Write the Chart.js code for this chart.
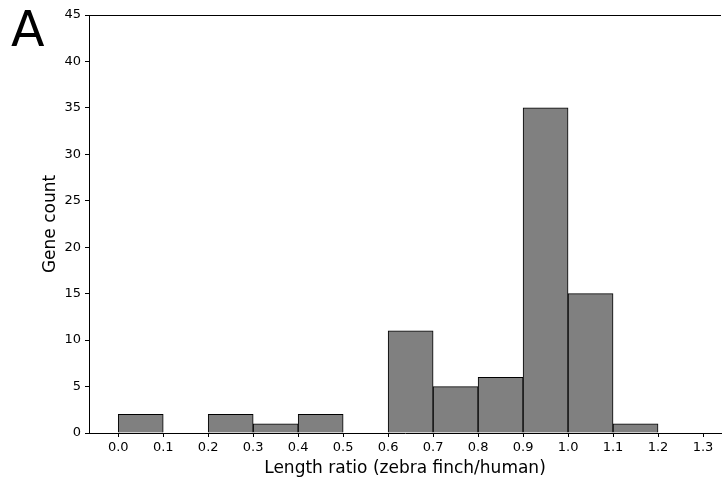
<!DOCTYPE html>
<html>
<head>
<meta charset="utf-8">
<script src="https://cdn.jsdelivr.net/npm/chart.js@4/dist/chart.umd.min.js"></script>
<style>
  html, body { margin: 0; padding: 0; background: #fff; }
  #histChart { display: block; }
</style>
</head>
<body>
<canvas id="histChart" width="722" height="481"></canvas>
<script>
// Bin centres (bins are 0.1 wide) and gene counts per bin
const binCenters = [0.05, 0.15, 0.25, 0.35, 0.45, 0.55, 0.65, 0.75, 0.85, 0.95, 1.05, 1.15];
const geneCounts = [2, null, 2, 1, 2, null, 11, 5, 6, 35, 15, 1];
const xTicks = [0.0, 0.1, 0.2, 0.3, 0.4, 0.5, 0.6, 0.7, 0.8, 0.9, 1.0, 1.1, 1.2, 1.3];
const yTicks = [0, 5, 10, 15, 20, 25, 30, 35, 40, 45];

const FONT = "'DejaVu Sans', sans-serif";

// top spine and panel letter
const extrasPlugin = {
  id: "extras",
  afterDraw(chart) {
    const { ctx, chartArea } = chart;
    ctx.save();
    ctx.strokeStyle = "#000";
    ctx.lineWidth = 1;
    ctx.beginPath();
    ctx.moveTo(chartArea.left, chartArea.top + 0.5);
    ctx.lineTo(chartArea.right, chartArea.top + 0.5);
    ctx.stroke();
    ctx.fillStyle = "#000";
    ctx.font = "49px " + FONT;
    ctx.textBaseline = "alphabetic";
    ctx.fillText("A", 11, 46);
    ctx.restore();
  },
};

new Chart(document.getElementById("histChart"), {
  type: "bar",
  data: {
    datasets: [
      {
        data: binCenters.map((x, i) => ({ x: x, y: geneCounts[i] })),
        backgroundColor: "#808080",
        borderColor: "#000",
        borderWidth: 1,
        barPercentage: 1,
        categoryPercentage: 1,
      },
    ],
  },
  options: {
    responsive: false,
    animation: false,
    layout: { padding: { left: 0, right: 1, top: 15, bottom: 0 } },
    plugins: { legend: { display: false }, tooltip: { enabled: false } },
    scales: {
      x: {
        type: "linear",
        offset: false,
        min: -0.065,
        max: 1.34,
        afterBuildTicks: (scale) => {
          scale.ticks = xTicks.map((v) => ({ value: v }));
        },
        afterFit: (scale) => {
          scale.height = 48;
        },
        ticks: {
          autoSkip: false,
          maxRotation: 0,
          color: "#000",
          font: { family: FONT, size: 13 },
          padding: 3,
          callback: (v) => Number(v).toFixed(1),
        },
        grid: { offset: false, drawOnChartArea: false, drawTicks: true, tickLength: 4, color: "#000" },
        border: { display: true, color: "#000", width: 1 },
        title: {
          display: true,
          text: "Length ratio (zebra finch/human)",
          color: "#000",
          font: { family: FONT, size: 17 },
          padding: { top: 0, bottom: 2 },
        },
      },
      y: {
        min: 0,
        max: 45,
        afterBuildTicks: (scale) => {
          scale.ticks = yTicks.map((v) => ({ value: v }));
        },
        afterFit: (scale) => {
          scale.width = 89;
        },
        ticks: {
          color: "#000",
          font: { family: FONT, size: 13 },
          padding: 4,
        },
        grid: { drawOnChartArea: false, drawTicks: true, tickLength: 4, color: "#000" },
        border: { display: true, color: "#000", width: 1 },
        title: {
          display: true,
          text: "Gene count",
          color: "#000",
          font: { family: FONT, size: 17 },
          padding: { top: 40, bottom: 0 },
        },
      },
    },
  },
  plugins: [extrasPlugin],
});
</script>
</body>
</html>
